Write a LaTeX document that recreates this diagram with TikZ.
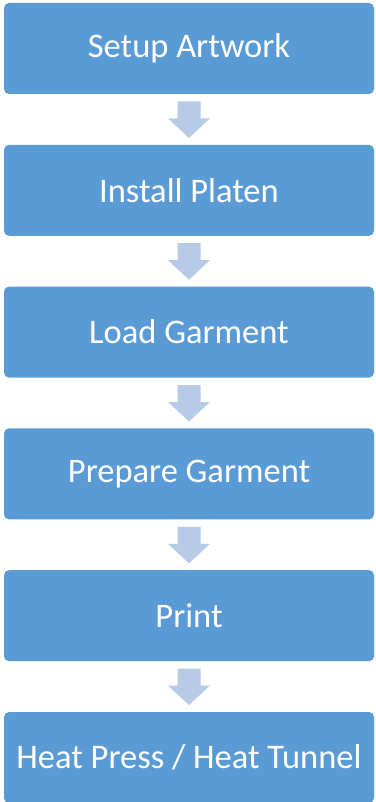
\documentclass[tikz,border=0pt]{standalone}
\usepackage{fontspec}
\setmainfont{Carlito}
\usepackage{xcolor}
\usepackage{tikz}
\usetikzlibrary{positioning,calc}
\definecolor{stepfill}{RGB}{91,155,213}
\definecolor{arrowfill}{RGB}{183,202,230}

\begin{document}
\begin{tikzpicture}[
    x=1pt,y=1pt,
    font=\fontsize{34.5}{40}\selectfont,
    stepbox/.style={fill=stepfill,draw=none,rounded corners=5pt,text=white,
                    minimum width=370pt,minimum height=91pt,inner sep=0pt},
]
\useasboundingbox (0,0) rectangle (375,-802);
% --- step boxes ---
\node[stepbox] (s1) at (189,-48.5) {Setup Artwork};
\node[stepbox,below=50.4pt of s1] (s2) {Install Platen};
\node[stepbox,below=50.4pt of s2] (s3) {Load Garment};
\node[stepbox,below=50.4pt of s3] (s4) {Prepare Garment};
\node[stepbox,below=50.4pt of s4] (s5) {Print};
\node[stepbox,below=50.4pt of s5] (s6) {Heat Press / Heat Tunnel};

% block arrows between the boxes
\foreach \a/\b in {s1/s2,s2/s3,s3/s4,s4/s5,s5/s6} {
  \coordinate (m) at ($(\a.south)!0.5!(\b.north)$);
  \fill[arrowfill] ($(m)+(-11.5,18)$) -- ($(m)+(11.5,18)$) -- ($(m)+(11.5,1)$)
     -- ($(m)+(21,1)$) -- ($(m)+(0,-18.5)$) -- ($(m)+(-21,1)$)
     -- ($(m)+(-11.5,1)$) -- cycle;
}
\end{tikzpicture}
\end{document}
